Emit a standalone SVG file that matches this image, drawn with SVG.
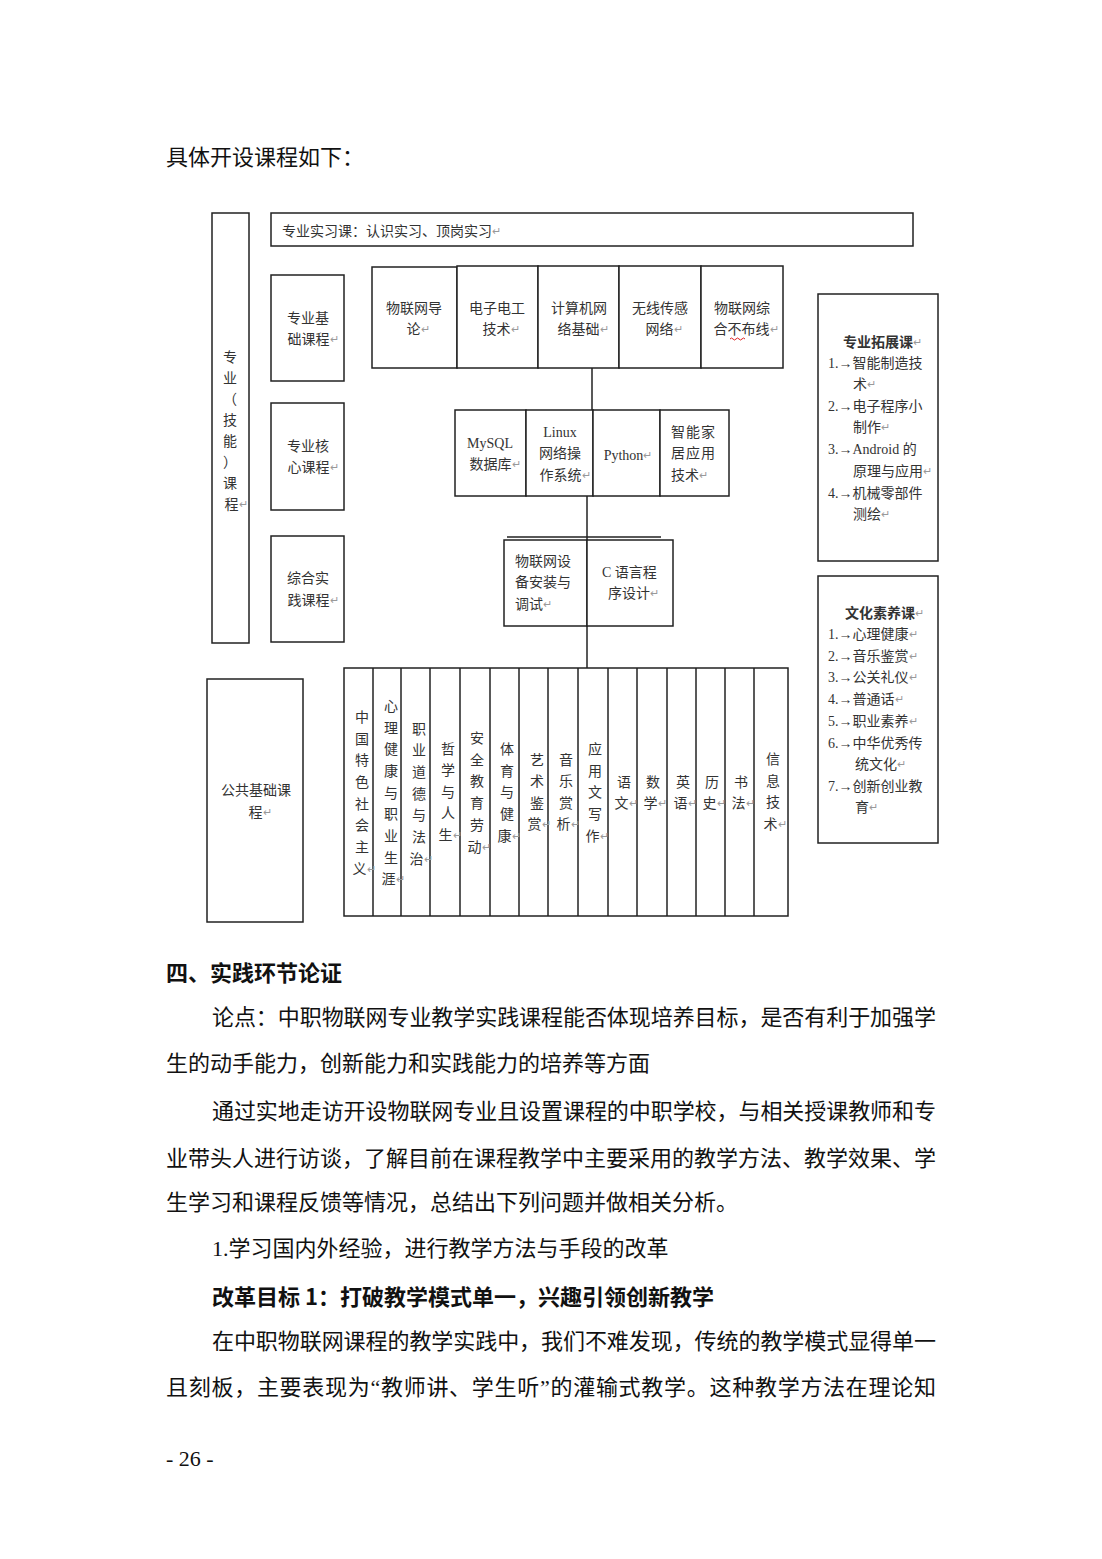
<svg xmlns="http://www.w3.org/2000/svg" width="1102" height="1559" viewBox="0 0 1102 1559">
<style>
.b{fill:#fff;stroke:#222;stroke-width:1.5}
.c{fill:none;stroke:#222;stroke-width:1.5}
.t{font-family:"Liberation Serif","Noto Sans CJK SC",serif;font-size:14px;fill:#333;dominant-baseline:central}
.m{text-anchor:middle}
.bd{font-weight:bold}
.pm{fill:#999;font-size:11px}
.body{font-family:"Liberation Serif","Noto Sans CJK SC",serif;font-size:22px;fill:#111;dominant-baseline:central}
.h{font-family:"Noto Sans CJK SC",sans-serif;font-weight:bold}
</style>
<rect width="1102" height="1559" fill="#fff"/>
<text class="body" x="166" y="157">具体开设课程如下：</text>

<g id="connectors">
<line class="c" x1="592" y1="368" x2="592" y2="410"/>
<line class="c" x1="587" y1="496" x2="587" y2="540"/>
<line class="c" x1="587" y1="626" x2="587" y2="668"/>
</g>

<g id="n-skill">
<rect class="b" x="212" y="213" width="37" height="430"/>
<text class="t m"><tspan x="230" y="357">专</tspan><tspan x="230" y="378">业</tspan><tspan x="230" y="399">（</tspan><tspan x="230" y="420">技</tspan><tspan x="230" y="441">能</tspan><tspan x="230" y="462">）</tspan><tspan x="230" y="483">课</tspan><tspan x="236" y="504">程<tspan class="pm">↵</tspan></tspan></text>
</g>
<g id="n-intern">
<rect class="b" x="271" y="213" width="642" height="33"/>
<text class="t" x="282" y="231">专业实习课：认识实习、顶岗实习<tspan class="pm">↵</tspan></text>
</g>
<g id="n-base">
<rect class="b" x="271" y="275" width="73" height="106"/>
<text class="t m"><tspan x="308" y="318">专业基</tspan><tspan x="313" y="339">础课程<tspan class="pm">↵</tspan></tspan></text>
</g>
<g id="n-core">
<rect class="b" x="271" y="403" width="73" height="107"/>
<text class="t m"><tspan x="308" y="446">专业核</tspan><tspan x="313" y="467">心课程<tspan class="pm">↵</tspan></tspan></text>
</g>
<g id="n-prac">
<rect class="b" x="271" y="536" width="73" height="106"/>
<text class="t m"><tspan x="308" y="578">综合实</tspan><tspan x="313" y="600">践课程<tspan class="pm">↵</tspan></tspan></text>
</g>

<g id="n-row1">
<rect class="b" x="372" y="267" width="85" height="101"/>
<rect class="b" x="457" y="266" width="81" height="102"/>
<rect class="b" x="538" y="266" width="81" height="102"/>
<rect class="b" x="619" y="266" width="82" height="102"/>
<rect class="b" x="701" y="266" width="82" height="102"/>
<text class="t m"><tspan x="414" y="308">物联网导</tspan><tspan x="418" y="329">论<tspan class="pm">↵</tspan></tspan></text>
<text class="t m"><tspan x="497" y="308">电子电工</tspan><tspan x="501" y="329">技术<tspan class="pm">↵</tspan></tspan></text>
<text class="t m"><tspan x="579" y="308">计算机网</tspan><tspan x="583" y="329">络基础<tspan class="pm">↵</tspan></tspan></text>
<text class="t m"><tspan x="660" y="308">无线传感</tspan><tspan x="664" y="329">网络<tspan class="pm">↵</tspan></tspan></text>
<text class="t m"><tspan x="742" y="308">物联网综</tspan><tspan x="746" y="329">合不布线<tspan class="pm">↵</tspan></tspan></text>
<path d="M730 339 q1.5 -2 3 0 t3 0 t3 0 t3 0 t3 0" fill="none" stroke="#d22" stroke-width="1"/>
</g>

<g id="n-row2">
<rect class="b" x="455" y="410" width="71" height="86"/>
<rect class="b" x="526" y="410" width="67" height="86"/>
<rect class="b" x="593" y="410" width="67" height="86"/>
<rect class="b" x="660" y="410" width="69" height="86"/>
<text class="t m"><tspan x="490" y="443">MySQL</tspan><tspan x="495" y="464">数据库<tspan class="pm">↵</tspan></tspan></text>
<text class="t m"><tspan x="560" y="432">Linux</tspan><tspan x="560" y="453">网络操</tspan><tspan x="565" y="475">作系统<tspan class="pm">↵</tspan></tspan></text>
<text class="t m" x="628" y="455">Python<tspan class="pm">↵</tspan></text>
<text class="t"><tspan x="671" y="432" letter-spacing="1">智能家</tspan><tspan x="671" y="453" letter-spacing="1">居应用</tspan><tspan x="671" y="475">技术<tspan class="pm">↵</tspan></tspan></text>
</g>

<g id="n-row3">
<line class="c" x1="507" y1="537" x2="661" y2="537"/>
<rect class="b" x="504" y="540" width="83" height="86"/>
<rect class="b" x="587" y="540" width="86" height="86"/>
<text class="t"><tspan x="515" y="561">物联网设</tspan><tspan x="515" y="582">备安装与</tspan><tspan x="515" y="604">调试<tspan class="pm">↵</tspan></tspan></text>
<text class="t"><tspan x="602" y="572">C 语言程</tspan><tspan x="608" y="593">序设计<tspan class="pm">↵</tspan></tspan></text>
</g>

<g id="n-public">
<rect class="b" x="207" y="679" width="96" height="243"/>
<text class="t m"><tspan x="256" y="790">公共基础课</tspan><tspan x="260" y="812">程<tspan class="pm">↵</tspan></tspan></text>
</g>

<g id="n-pubcourses">
<rect class="b" x="344" y="668" width="444" height="248"/>
<g class="c">
<line x1="373" y1="668" x2="373" y2="916"/><line x1="401" y1="668" x2="401" y2="916"/><line x1="430" y1="668" x2="430" y2="916"/><line x1="460" y1="668" x2="460" y2="916"/><line x1="490" y1="668" x2="490" y2="916"/><line x1="519" y1="668" x2="519" y2="916"/><line x1="548" y1="668" x2="548" y2="916"/><line x1="578" y1="668" x2="578" y2="916"/><line x1="608" y1="668" x2="608" y2="916"/><line x1="637" y1="668" x2="637" y2="916"/><line x1="667" y1="668" x2="667" y2="916"/><line x1="696" y1="668" x2="696" y2="916"/><line x1="725" y1="668" x2="725" y2="916"/><line x1="754" y1="668" x2="754" y2="916"/>
</g>
<text class="t m"><tspan x="362" y="717">中</tspan><tspan x="362" y="739">国</tspan><tspan x="362" y="760">特</tspan><tspan x="362" y="782">色</tspan><tspan x="362" y="804">社</tspan><tspan x="362" y="825">会</tspan><tspan x="362" y="847">主</tspan><tspan x="364" y="869">义<tspan class="pm">↵</tspan></tspan></text>
<text class="t m"><tspan x="391" y="706">心</tspan><tspan x="391" y="728">理</tspan><tspan x="391" y="749">健</tspan><tspan x="391" y="771">康</tspan><tspan x="391" y="793">与</tspan><tspan x="391" y="814">职</tspan><tspan x="391" y="836">业</tspan><tspan x="391" y="858">生</tspan><tspan x="393" y="879">涯<tspan class="pm">↵</tspan></tspan></text>
<text class="t m"><tspan x="419" y="729">职</tspan><tspan x="419" y="750">业</tspan><tspan x="419" y="772">道</tspan><tspan x="419" y="794">德</tspan><tspan x="419" y="815">与</tspan><tspan x="419" y="837">法</tspan><tspan x="421" y="859">治<tspan class="pm">↵</tspan></tspan></text>
<text class="t m"><tspan x="448" y="749">哲</tspan><tspan x="448" y="770">学</tspan><tspan x="448" y="792">与</tspan><tspan x="448" y="813">人</tspan><tspan x="450" y="835">生<tspan class="pm">↵</tspan></tspan></text>
<text class="t m"><tspan x="477" y="738">安</tspan><tspan x="477" y="760">全</tspan><tspan x="477" y="781">教</tspan><tspan x="477" y="803">育</tspan><tspan x="477" y="825">劳</tspan><tspan x="479" y="847">动<tspan class="pm">↵</tspan></tspan></text>
<text class="t m"><tspan x="507" y="749">体</tspan><tspan x="507" y="771">育</tspan><tspan x="507" y="792">与</tspan><tspan x="507" y="814">健</tspan><tspan x="509" y="836">康<tspan class="pm">↵</tspan></tspan></text>
<text class="t m"><tspan x="537" y="760">艺</tspan><tspan x="537" y="781">术</tspan><tspan x="537" y="803">鉴</tspan><tspan x="539" y="824">赏<tspan class="pm">↵</tspan></tspan></text>
<text class="t m"><tspan x="566" y="760">音</tspan><tspan x="566" y="781">乐</tspan><tspan x="566" y="803">赏</tspan><tspan x="568" y="824">析<tspan class="pm">↵</tspan></tspan></text>
<text class="t m"><tspan x="595" y="749">应</tspan><tspan x="595" y="771">用</tspan><tspan x="595" y="792">文</tspan><tspan x="595" y="814">写</tspan><tspan x="597" y="836">作<tspan class="pm">↵</tspan></tspan></text>
<text class="t m"><tspan x="624" y="782">语</tspan><tspan x="626" y="803">文<tspan class="pm">↵</tspan></tspan></text>
<text class="t m"><tspan x="653" y="782">数</tspan><tspan x="655" y="803">学<tspan class="pm">↵</tspan></tspan></text>
<text class="t m"><tspan x="683" y="782">英</tspan><tspan x="685" y="803">语<tspan class="pm">↵</tspan></tspan></text>
<text class="t m"><tspan x="712" y="782">历</tspan><tspan x="714" y="803">史<tspan class="pm">↵</tspan></tspan></text>
<text class="t m"><tspan x="741" y="782">书</tspan><tspan x="743" y="803">法<tspan class="pm">↵</tspan></tspan></text>
<text class="t m"><tspan x="773" y="759">信</tspan><tspan x="773" y="781">息</tspan><tspan x="773" y="802">技</tspan><tspan x="775" y="824">术<tspan class="pm">↵</tspan></tspan></text>
</g>

<g id="n-ext">
<rect class="b" x="818" y="294" width="120" height="267"/>
<text class="t bd" x="843" y="342">专业拓展课<tspan class="pm" font-weight="normal">↵</tspan></text>
<text class="t"><tspan x="828" y="363">1.→智能制造技</tspan><tspan x="853" y="384">术<tspan class="pm">↵</tspan></tspan><tspan x="828" y="406">2.→电子程序小</tspan><tspan x="853" y="427">制作<tspan class="pm">↵</tspan></tspan><tspan x="828" y="449">3.→Android 的</tspan><tspan x="853" y="471">原理与应用<tspan class="pm">↵</tspan></tspan><tspan x="828" y="493">4.→机械零部件</tspan><tspan x="853" y="514">测绘<tspan class="pm">↵</tspan></tspan></text>
</g>

<g id="n-culture">
<rect class="b" x="818" y="576" width="120" height="267"/>
<text class="t bd" x="845" y="613">文化素养课<tspan class="pm" font-weight="normal">↵</tspan></text>
<text class="t"><tspan x="828" y="634">1.→心理健康<tspan class="pm">↵</tspan></tspan><tspan x="828" y="656">2.→音乐鉴赏<tspan class="pm">↵</tspan></tspan><tspan x="828" y="677">3.→公关礼仪<tspan class="pm">↵</tspan></tspan><tspan x="828" y="699">4.→普通话<tspan class="pm">↵</tspan></tspan><tspan x="828" y="721">5.→职业素养<tspan class="pm">↵</tspan></tspan><tspan x="828" y="743">6.→中华优秀传</tspan><tspan x="855" y="764">统文化<tspan class="pm">↵</tspan></tspan><tspan x="828" y="786">7.→创新创业教</tspan><tspan x="855" y="807">育<tspan class="pm">↵</tspan></tspan></text>
</g>

<text class="body h" x="166" y="971">四、实践环节论证</text>
<text class="body" x="212" y="1017" textLength="724" lengthAdjust="spacing">论点：中职物联网专业教学实践课程能否体现培养目标，是否有利于加强学</text>
<text class="body" x="166" y="1063">生的动手能力，创新能力和实践能力的培养等方面</text>
<text class="body" x="212" y="1111" textLength="724" lengthAdjust="spacing">通过实地走访开设物联网专业且设置课程的中职学校，与相关授课教师和专</text>
<text class="body" x="166" y="1158" textLength="770" lengthAdjust="spacing">业带头人进行访谈，了解目前在课程教学中主要采用的教学方法、教学效果、学</text>
<text class="body" x="166" y="1202">生学习和课程反馈等情况，总结出下列问题并做相关分析。</text>
<text class="body" x="212" y="1248">1.学习国内外经验，进行教学方法与手段的改革</text>
<text class="body h" x="212" y="1295">改革目标 1：打破教学模式单一，兴趣引领创新教学</text>
<text class="body" x="212" y="1341" textLength="724" lengthAdjust="spacing">在中职物联网课程的教学实践中，我们不难发现，传统的教学模式显得单一</text>
<text class="body" x="166" y="1387" textLength="770" lengthAdjust="spacing">且刻板，主要表现为“教师讲、学生听”的灌输式教学。这种教学方法在理论知</text>
<text class="body" x="166" y="1458" font-size="16">- 26 -</text>
</svg>
